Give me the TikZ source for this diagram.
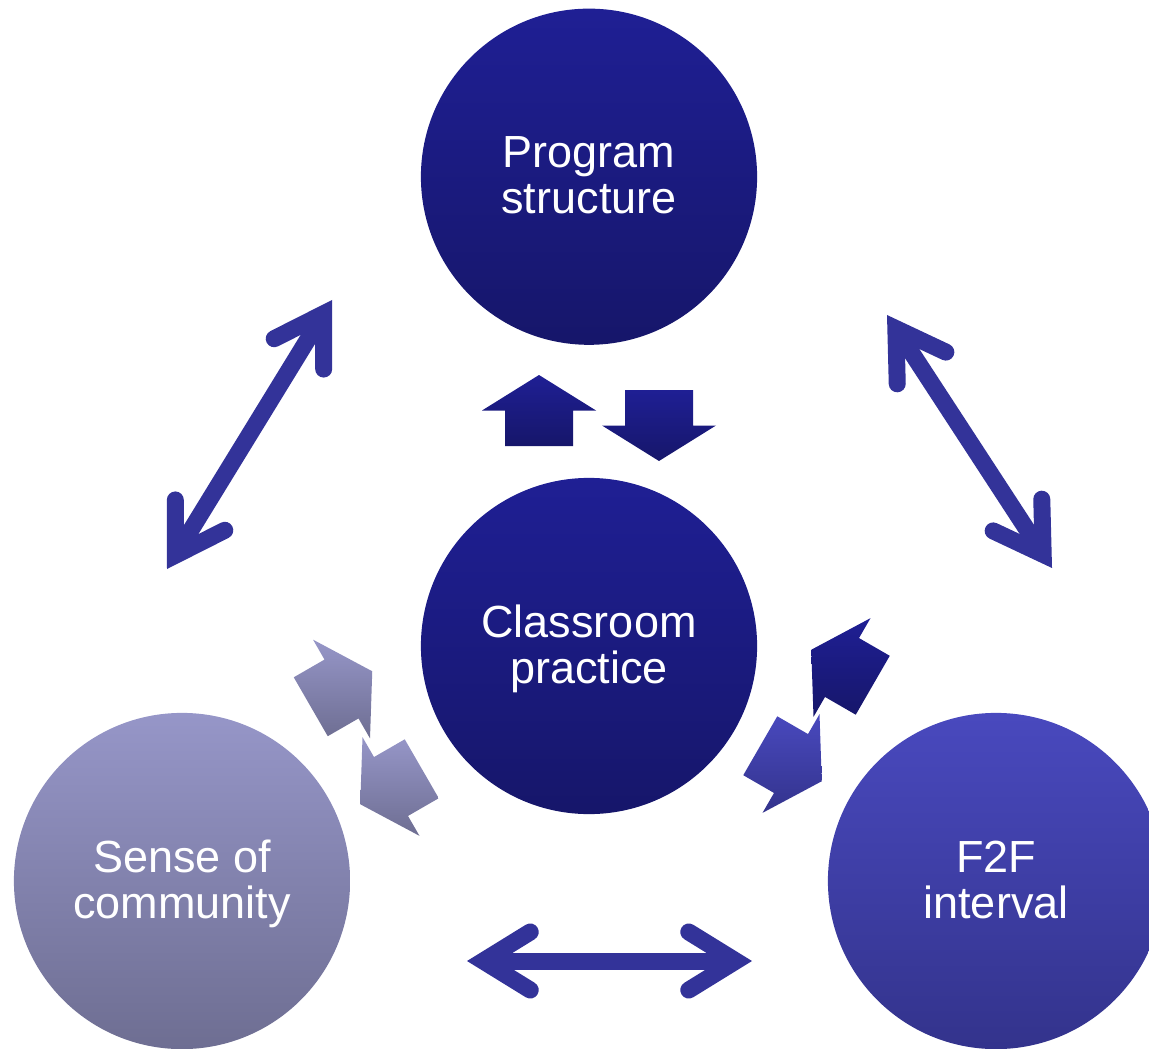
\documentclass[tikz,border=0pt]{standalone}
\usepackage{fontspec}
\setmainfont{Liberation Sans}
\usetikzlibrary{arrows.meta}

\definecolor{navytop}{HTML}{1F1F94}
\definecolor{navybot}{HTML}{16166A}
\definecolor{lilactop}{HTML}{9696C8}
\definecolor{lilacbot}{HTML}{6E6E92}
\definecolor{skytop}{HTML}{4949BE}
\definecolor{skybot}{HTML}{33338C}
\definecolor{linkblue}{HTML}{333399}

\begin{document}
\begin{tikzpicture}[x=0.01cm, y=-0.01cm,
        hub/.style={circle, inner sep=0pt, minimum size=3.36cm, text=white, align=center,
            font=\fontsize{12.8}{13.1}\selectfont, text depth=0.03cm},
        navyhub/.style={hub, top color=navytop, bottom color=navybot},
        lilachub/.style={hub, top color=lilactop, bottom color=lilacbot},
        skyhub/.style={hub, top color=skytop, bottom color=skybot},
        navyarr/.style={top color=navytop, bottom color=navybot},
        lilacarr/.style={top color=lilactop, bottom color=lilacbot},
        skyarr/.style={top color=skytop, bottom color=skybot},
        link/.style={draw=linkblue, line width=0.17cm,
            >={Straight Barb[length=4.7mm, width=5.8mm, line cap=round, line join=miter]}, <->},
        blockarr/.pic={\path[#1] (0,-35.5) -- (57,0) -- (34,0) -- (34,35.5) -- (-34,35.5)
            -- (-34,0) -- (-57,0) -- cycle;}]

    \clip (0,0) rectangle (1149,1049);

    % the four topics
    \node [navyhub] (practice) at (589,646) {Classroom\\practice};
    \node [navyhub, above of=practice, node distance=4.69cm] (program) {Program\\structure};
    \node [lilachub] (community) at (182,881) {Sense of\\community};
    \node [skyhub] (f2f) at (996,881) {F2F\\interval};

    % two-way links between the outer topics
    \coordinate (cl1) at (167,569);
    \coordinate (cl2) at (332,300);
    \coordinate (fr1) at (887,315);
    \coordinate (fr2) at (1052,568);
    \coordinate (bt1) at (467,961);
    \coordinate (bt2) at (752,961);
    \path [link] (cl1) -- (cl2);
    \path [link] (fr1) -- (fr2);
    \path [link] (bt1) -- (bt2);

    % block arrows round the middle topic
    \pic at (539,410.5) {blockarr=navyarr};
    \pic [rotate=180] at (659,425.5) {blockarr=navyarr};
    \pic [rotate=-60] at (341.5,689) {blockarr=lilacarr};
    \pic [rotate=120] at (391,786.5) {blockarr=lilacarr};
    \pic [rotate=60] at (842,667.5) {blockarr=navyarr};
    \pic [rotate=240] at (791,763.5) {blockarr=skyarr};
\end{tikzpicture}
\end{document}
